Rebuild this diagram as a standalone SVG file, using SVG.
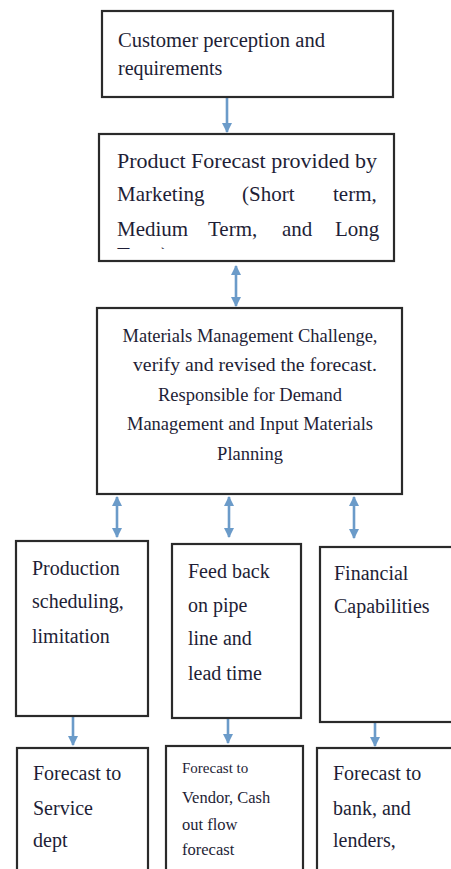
<svg xmlns="http://www.w3.org/2000/svg" width="451" height="869" viewBox="0 0 451 869">
<style>
.box{fill:#fff;stroke:#2a2a2a;stroke-width:2.2}
.t{font-family:"Liberation Serif","Times New Roman",serif;fill:#1e1e36;font-size:20px}
.c{stroke:#6b9bc9;stroke-width:2.6;fill:none}
</style>
<defs>
<marker id="ah" viewBox="0 0 10 10" refX="9" refY="5" markerWidth="4" markerHeight="4" orient="auto-start-reverse" markerUnits="strokeWidth">
<path d="M0,0 L10,5 L0,10 z" fill="#6b9bc9"/>
</marker>
<clipPath id="clip2"><rect x="99" y="134" width="295" height="115"/></clipPath>
</defs>
<rect width="451" height="869" fill="#fff"/>
<g id="connectors">
<line class="c" x1="227" y1="98" x2="227" y2="132" marker-end="url(#ah)"/>
<line class="c" x1="236" y1="266" x2="236" y2="306" marker-start="url(#ah)" marker-end="url(#ah)"/>
<line class="c" x1="117" y1="497" x2="117" y2="537" marker-start="url(#ah)" marker-end="url(#ah)"/>
<line class="c" x1="229" y1="497" x2="229" y2="537" marker-start="url(#ah)" marker-end="url(#ah)"/>
<line class="c" x1="354" y1="497" x2="354" y2="538" marker-start="url(#ah)" marker-end="url(#ah)"/>
<line class="c" x1="73" y1="717" x2="73" y2="745" marker-end="url(#ah)"/>
<line class="c" x1="228" y1="718" x2="228" y2="743" marker-end="url(#ah)"/>
<line class="c" x1="375" y1="722" x2="375" y2="746" marker-end="url(#ah)"/>
</g>
<g id="n1">
<rect class="box" x="102" y="11" width="291" height="86"/>
<text class="t" x="118" y="47" textLength="207" lengthAdjust="spacingAndGlyphs">Customer perception and</text>
<text class="t" x="118" y="75">requirements</text>
</g>
<g id="n2">
<rect class="box" x="99" y="134" width="295" height="127"/>
<text class="t" x="117" y="168" style="font-size:21px" textLength="260" lengthAdjust="spacingAndGlyphs">Product Forecast provided by</text>
<text class="t" y="201" style="font-size:21px"><tspan x="117">Marketing</tspan><tspan x="242">(Short</tspan><tspan x="333">term,</tspan></text>
<text class="t" y="236" style="font-size:21px"><tspan x="117">Medium</tspan><tspan x="208">Term,</tspan><tspan x="282">and</tspan><tspan x="335">Long</tspan></text>
<text class="t" x="117" y="262" style="font-size:21px" clip-path="url(#clip2)">Term)</text>
</g>
<g id="n3">
<rect class="box" x="97" y="308" width="305" height="186"/>
<g class="t" text-anchor="middle" style="font-size:18.5px">
<text x="250" y="342" textLength="255" lengthAdjust="spacingAndGlyphs">Materials Management Challenge,</text>
<text x="255" y="371" textLength="244" lengthAdjust="spacingAndGlyphs">verify and revised the forecast.</text>
<text x="250" y="401">Responsible for Demand</text>
<text x="250" y="430">Management and Input Materials</text>
<text x="250" y="460">Planning</text>
</g>
</g>
<g id="n4">
<rect class="box" x="16" y="541" width="132" height="175"/>
<text class="t" x="32" y="575">Production</text>
<text class="t" x="32" y="608">scheduling,</text>
<text class="t" x="32" y="643">limitation</text>
</g>
<g id="n5">
<rect class="box" x="172" y="544" width="129" height="174"/>
<text class="t" x="188" y="578">Feed back</text>
<text class="t" x="188" y="612">on pipe</text>
<text class="t" x="188" y="645">line and</text>
<text class="t" x="188" y="680">lead time</text>
</g>
<g id="n6">
<rect class="box" x="320" y="547" width="140" height="175"/>
<text class="t" x="334" y="580">Financial</text>
<text class="t" x="334" y="613">Capabilities</text>
</g>
<g id="n7">
<rect class="box" x="17" y="748" width="131" height="130"/>
<text class="t" x="33" y="780">Forecast to</text>
<text class="t" x="33" y="815">Service</text>
<text class="t" x="33" y="847">dept</text>
</g>
<g id="n8">
<rect class="box" x="166" y="746" width="137" height="130"/>
<text class="t" x="182" y="773" style="font-size:15px">Forecast to</text>
<text class="t" x="182" y="803" style="font-size:16.5px">Vendor, Cash</text>
<text class="t" x="182" y="830" style="font-size:16.5px">out flow</text>
<text class="t" x="182" y="855" style="font-size:16.5px">forecast</text>
</g>
<g id="n9">
<rect class="box" x="317" y="748" width="143" height="130"/>
<text class="t" x="333" y="780">Forecast to</text>
<text class="t" x="333" y="815">bank, and</text>
<text class="t" x="333" y="847">lenders,</text>
</g>
</svg>
